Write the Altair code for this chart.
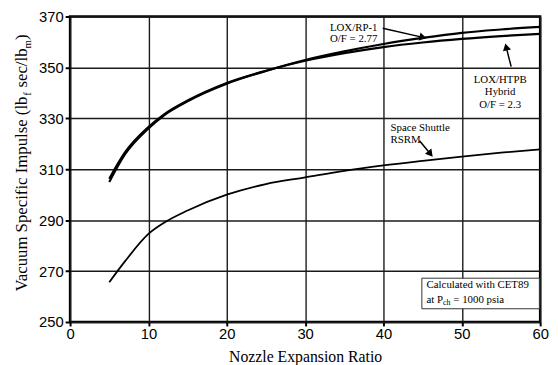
import altair as alt
import pandas as pd

# ---- data ----
ratio = [5, 7, 10, 12, 15, 20, 25, 30, 35, 40, 45, 50, 55, 60]
isp_rp1 = [305.0, 315.8, 326.0, 331.2, 336.7, 343.6, 348.6, 352.9, 356.3, 359.2, 361.6, 363.6, 364.9, 365.9]
isp_htpb = [306.3, 316.6, 326.6, 331.6, 337.0, 343.9, 348.7, 352.6, 355.6, 358.0, 359.8, 361.2, 362.3, 363.2]
isp_rsrm = [265.6, 273.8, 284.6, 289.0, 293.8, 300.0, 304.2, 306.8, 309.4, 311.5, 313.3, 315.0, 316.5, 317.8]

x_ticks = [0, 10, 20, 30, 40, 50, 60]
y_ticks = [250, 270, 290, 310, 330, 350, 370]

# annotation labels (data coordinates)
labels_center = [
    ("LOX/RP-1", 36.2, 365.6),
    ("O/F = 2.77", 36.2, 361.0),
    ("LOX/HTPB", 54.9, 345.2),
    ("Hybrid", 54.9, 340.2),
    ("O/F = 2.3", 54.9, 335.4),
]
labels_left = [
    ("Space Shuttle", 40.9, 326.0),
    ("RSRM", 40.9, 321.6),
    ("Calculated with CET89", 45.5, 264.6),
]
# arrows: start x, start y, head x, head y, head angle
arrows = [
    (39.9, 365.4, 44.9, 361.9, 104),
    (56.3, 350.3, 55.7, 357.6, 347),
    (44.6, 321.2, 45.9, 316.4, 141),
]
note_box = (44.9, 267.2, 59.9, 255.2)

serif = "Liberation Serif"
sans = "Liberation Sans"

rows = []
for name, vals in [("LOX/RP-1", isp_rp1), ("LOX/HTPB", isp_htpb), ("RSRM", isp_rsrm)]:
    for r, v in zip(ratio, vals):
        rows.append({"ratio": r, "isp": v, "series": name})
df = pd.DataFrame(rows)

xs = alt.Scale(domain=[0, 60], nice=False, zero=False)
ys = alt.Scale(domain=[250, 370], nice=False, zero=False)

x_axis = alt.Axis(values=x_ticks, title="Nozzle Expansion Ratio", grid=True,
                  labelFont=sans, labelFontSize=15, labelColor="black",
                  titleFont=serif, titleFontSize=16, titleFontWeight="normal", titleColor="black",
                  titlePadding=7, tickSize=4, tickWidth=2, tickColor="black", labelPadding=1,
                  gridColor="#1a1a1a", gridWidth=1.4, domain=False, labelFlush=False)
y_axis = alt.Axis(values=y_ticks, title=None, grid=True,
                  labelFont=sans, labelFontSize=15, labelColor="black",
                  tickSize=5, tickWidth=2, tickColor="black", labelPadding=2,
                  gridColor="#1a1a1a", gridWidth=1.4, domain=False)

base = alt.Chart(df)
lines_top = base.transform_filter(alt.datum.series != "RSRM").mark_line(
    color="black", strokeWidth=2.2, interpolate="monotone"
).encode(
    x=alt.X("ratio:Q", scale=xs, axis=x_axis),
    y=alt.Y("isp:Q", scale=ys, axis=y_axis),
    detail="series:N",
)
line_rsrm = base.transform_filter(alt.datum.series == "RSRM").mark_line(
    color="black", strokeWidth=1.8, interpolate="monotone"
).encode(x=alt.X("ratio:Q", scale=xs), y=alt.Y("isp:Q", scale=ys))

bx = pd.DataFrame([{"x": note_box[0], "y": note_box[1], "x2": note_box[2], "y2": note_box[3]}])
box = alt.Chart(bx).mark_rect(fill="white", stroke="#333333", strokeWidth=1).encode(
    x=alt.X("x:Q", scale=xs), y=alt.Y("y:Q", scale=ys), x2="x2:Q", y2="y2:Q")

lc = pd.DataFrame(labels_center, columns=["t", "x", "y"])
ll = pd.DataFrame(labels_left, columns=["t", "x", "y"])
txt_c = alt.Chart(lc).mark_text(font=serif, fontSize=11, color="black", align="center", baseline="middle").encode(
    x=alt.X("x:Q", scale=xs), y=alt.Y("y:Q", scale=ys), text="t:N")
txt_l = alt.Chart(ll).mark_text(font=serif, fontSize=11, color="black", align="left", baseline="middle").encode(
    x=alt.X("x:Q", scale=xs), y=alt.Y("y:Q", scale=ys), text="t:N")

ar = pd.DataFrame(arrows, columns=["x", "y", "x2", "y2", "ang"])
arrow_lines = alt.Chart(ar).mark_rule(color="black", strokeWidth=1.5).encode(
    x=alt.X("x:Q", scale=xs), y=alt.Y("y:Q", scale=ys), x2="x2:Q", y2="y2:Q")
heads = []
for a in arrows:
    hd = pd.DataFrame([{"x": a[2], "y": a[3]}])
    heads.append(alt.Chart(hd).mark_point(shape="triangle", filled=True, color="black", opacity=1,
                                          size=70, angle=a[4]).encode(
        x=alt.X("x:Q", scale=xs), y=alt.Y("y:Q", scale=ys)))

# second line of the note, with subscript "ch"
note2 = pd.DataFrame([{"x": 45.5, "y": 258.6}])
note_parts = [("at P", 11, 0, 0), ("ch", 8, 16.8, 2.5), ("= 1000 psia", 11, 27.2, 0)]
note_layers = []
for t, fs, dx, dy in note_parts:
    note_layers.append(alt.Chart(note2).mark_text(text=t, font=serif, fontSize=fs, color="black",
                                                  align="left", baseline="middle", dx=dx, dy=dy).encode(
        x=alt.X("x:Q", scale=xs), y=alt.Y("y:Q", scale=ys)))

# rotated y-axis title with subscripts
ytitle = pd.DataFrame([{"a": 1}])
ytitle_parts = [("Vacuum Specific Impulse (lb", 17, 0, 0), ("f", 11, 198.6, 4),
                ("sec/lb", 17, 206.9, 0), ("m", 11, 246.6, 4), (")", 17, 255.2, 0)]
ytitle_layers = []
for t, fs, dx, dy in ytitle_parts:
    ytitle_layers.append(alt.Chart(ytitle).mark_text(text=t, font=serif, fontSize=fs, color="black",
                                                     align="left", baseline="alphabetic", angle=270,
                                                     dx=dx, dy=dy).encode(
        x=alt.value(-44), y=alt.value(279)))

chart = alt.layer(
    lines_top, line_rsrm, box, arrow_lines, *heads, txt_c, txt_l, *note_layers, *ytitle_layers
).properties(
    width=477, height=310,
    autosize=alt.AutoSizeParams(type="none"),
    padding={"left": 63, "top": 6, "right": 10, "bottom": 41},
    background="white",
).configure_view(stroke="black", strokeWidth=2.5)

chart.save("out.html", embed_options={"renderer": "svg", "actions": False})
